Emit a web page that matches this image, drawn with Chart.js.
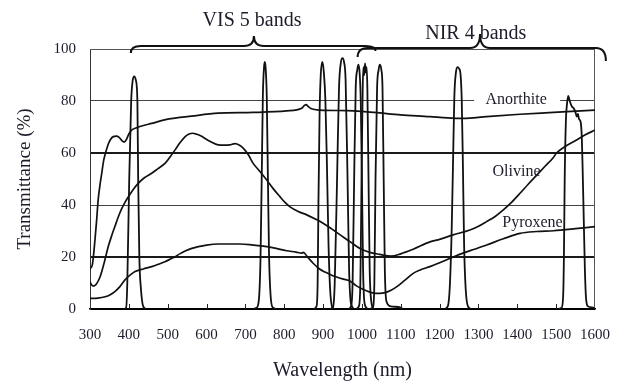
<!DOCTYPE html>
<html>
<head>
<meta charset="utf-8">
<title>Transmittance spectra</title>
<script src="https://cdn.jsdelivr.net/npm/chart.js@4.4.1/dist/chart.umd.min.js"></script>
<style>
  html, body { margin: 0; padding: 0; background: #fff; }
  #wrap { width: 620px; height: 384px; }
</style>
</head>
<body>
<div id="wrap"><canvas id="spectra" width="620" height="384"></canvas></div>
<script>
// axes
const xTicks = [300, 400, 500, 600, 700, 800, 900, 1000, 1100, 1200, 1300, 1400, 1500, 1600];
const yTicks = [0, 20, 40, 60, 80, 100];

// mineral spectra [nm, %]
const anorthite = [[300,15.5],[306,17],[310,22],[313,27],[317,34],[321,42],[326,48],[330,52],[335,57],[340,60],[346,63],[352,65],[360,66.3],[368,66.5],[375,66],[382,64.8],[388,64.2],[393,65],[400,67.3],[407,68.8],[420,69.7],[433,70.4],[459,71.4],[500,73],[562,74.2],[630,75.3],[720,75.6],[806,76.2],[845,77.2],[852,78.3],[857,78.6],[862,77.8],[870,77],[892,76.5],[961,76.3],[1000,76],[1046,75.4],[1100,74.7],[1175,74],[1220,73.5],[1261,73.3],[1321,74],[1407,74.9],[1493,75.6],[1600,76.5]];
const olivine = [[300,10.5],[304,9.3],[309,8.8],[316,9.5],[326,12.4],[336,17.5],[347,24],[356,28.3],[364,31.7],[373,35.5],[382,38.7],[390,41],[399,43.2],[410,45.7],[424,48.3],[440,50.5],[459,52.2],[475,54],[493,56],[506,58.5],[519,61.2],[532,64],[545,66.3],[555,67.3],[564,67.6],[575,67.2],[586,66.5],[596,65.6],[610,64.4],[630,63.1],[645,63],[660,63.1],[673,63.6],[685,63],[695,61.8],[708,59.2],[720,56],[738,52.8],[755,49.6],[772,46.2],[789,43.2],[802,41],[815,39.3],[836,37.5],[858,36.2],[880,34.6],[900,33],[922,30.8],[944,28.5],[970,25.8],[995,23.3],[1020,21.8],[1046,21],[1075,20.3],[1100,21.2],[1132,23],[1175,25.8],[1200,26.8],[1235,28.5],[1278,30.4],[1300,31.8],[1321,33.6],[1343,35.6],[1364,38.1],[1385,41],[1407,44.5],[1428,48],[1450,51.5],[1472,55],[1493,58.3],[1501,60],[1520,62.2],[1550,64.8],[1575,67],[1600,68.8]];
const pyroxene = [[300,4.1],[320,4.2],[339,4.7],[352,5.5],[364,6.7],[377,8.6],[390,11.2],[403,13],[416,14.4],[437,15.4],[459,16.3],[476,17.2],[493,18.2],[507,19.2],[519,20.1],[532,21.3],[545,22.3],[562,23.3],[579,24],[600,24.6],[630,25],[660,25],[686,25],[716,24.7],[746,24.2],[776,23.4],[806,22.4],[830,21.9],[845,21.5],[849,21.8],[860,20],[875,17.5],[890,15.5],[905,14.2],[918,13.3],[935,12.3],[952,11.5],[969,10.8],[985,9],[1000,7.8],[1015,6.8],[1030,6.1],[1046,6],[1060,6.3],[1075,7.2],[1090,8.6],[1110,11],[1132,13.7],[1150,15],[1175,16.3],[1200,17.8],[1227,19.5],[1260,21.5],[1290,23],[1321,24.6],[1364,27],[1407,29.1],[1450,29.8],[1493,30.1],[1550,30.9],[1600,31.7]];

// filter bands [nm, %]
const band415 = [[385,0],[393,0.5],[396,10],[401,50],[406,80],[410,88],[414,89.5],[418,88],[422,80],[424,50],[427,20],[431,8],[437,1],[445,0]];
const band750 = [[720,0],[729,0.5],[735,4],[739,20],[742,50],[745,82],[748,93],[750,95],[752,93],[755,82],[758,50],[761,20],[765,5],[771,0.5],[780,0]];
const band900 = [[875,0],[883,1],[886,10],[888,40],[891,75],[894,90],[898,95],[902,91],[906,80],[910,55],[914,25],[918,8],[923,1],[930,0]];
const band950 = [[918,0],[926,1],[930,10],[936,50],[941,85],[946,95],[950,96.5],[954,95],[958,88],[963,50],[967,15],[972,2],[980,0]];
const band990 = [[965,0],[972,1],[976,10],[980,50],[984,85],[988,92],[991,94],[994,91],[997,80],[1000,50],[1003,15],[1007,2],[1015,0]];
const band1005 = [[985,0],[992,1],[996,10],[999,50],[1002,85],[1004,93],[1006,90],[1008,94.5],[1010,91],[1012,93],[1014,85],[1017,50],[1020,15],[1024,3],[1030,0]];
const band1045 = [[1020,0],[1029,1],[1032,10],[1035,50],[1039,85],[1043,92],[1046,94],[1050,92],[1053,85],[1056,50],[1059,15],[1063,3],[1075,1],[1100,0.5],[1105,0]];
const band1250 = [[1212,0],[1221,1],[1226,8],[1231,30],[1235,60],[1238,82],[1242,91],[1246,93],[1250,92.5],[1254,90],[1257,80],[1260,55],[1263,25],[1267,8],[1273,1],[1282,0]];
const band1530 = [[1505,0],[1514,0.5],[1518,5],[1520,20],[1522,50],[1525,72],[1528,79],[1531,82],[1535,80],[1540,78],[1546,77],[1550,75.5],[1553,74],[1556,75],[1559,73],[1563,72],[1566,66],[1568,55],[1571,35],[1574,15],[1577,4],[1582,1],[1595,0.5],[1600,0]];
const bands = [band415, band750, band900, band950, band990, band1005, band1045, band1250, band1530];

// curve labels
const curveLabels = ['Anorthite', 'Olivine', 'Pyroxene'];
const labelNm = [1397, 1398, 1439];
const labelPct = [80.6, 52.8, 33];

// band group braces (nm)
const braceText = ['VIS 5 bands', 'NIR 4 bands'];
const braceTextNm = [717, 1293];
const braceStart = [405, 989];
const braceTip = [722, 1304];
const braceEnd = [1035, 1628];

const SERIF = "'Liberation Serif', 'DejaVu Serif', serif";
const INK = '#111';

function brace(ctx, x0, xm, x1, yLine, yTip, yL, yR) {
    const r = 10;
    ctx.beginPath();
    ctx.moveTo(x0, yL);
    ctx.quadraticCurveTo(x0, yLine, x0 + r, yLine);
    ctx.lineTo(xm - r, yLine);
    ctx.quadraticCurveTo(xm, yLine, xm, yTip);
    ctx.moveTo(xm, yTip);
    ctx.quadraticCurveTo(xm, yLine, xm + r, yLine);
    ctx.lineTo(x1 - r, yLine);
    ctx.quadraticCurveTo(x1, yLine, x1, yR);
    ctx.stroke();
}

const decorations = {
    id: 'decorations',
    beforeDatasetsDraw(chart) {
        const { ctx, chartArea: a, scales: { x, y } } = chart;
        ctx.save();
        // top and right frame
        ctx.strokeStyle = '#555';
        ctx.lineWidth = 1;
        ctx.beginPath();
        ctx.moveTo(a.left, a.top + 0.5);
        ctx.lineTo(a.right - 0.5, a.top + 0.5);
        ctx.lineTo(a.right - 0.5, a.bottom);
        ctx.stroke();
        // white box behind the Anorthite label cuts the 80% line
        const px = x.getPixelForValue(labelNm[0]);
        const py = y.getPixelForValue(labelPct[0]);
        ctx.fillStyle = '#fff';
        ctx.fillRect(px - 42, py - 6, 86, 12);
        ctx.restore();
    },
    afterDatasetsDraw(chart) {
        const { ctx, chartArea: a, scales: { x, y } } = chart;
        ctx.save();
        // inward tick marks on the wavelength axis
        ctx.strokeStyle = '#222';
        ctx.lineWidth = 1;
        xTicks.slice(1, -1).forEach(v => {
            const px = Math.round(x.getPixelForValue(v)) + 0.5;
            ctx.beginPath();
            ctx.moveTo(px, a.bottom);
            ctx.lineTo(px, a.bottom - 5);
            ctx.stroke();
        });
        // curve names
        ctx.fillStyle = '#1c1c2a';
        ctx.font = '16px ' + SERIF;
        ctx.textAlign = 'center';
        ctx.textBaseline = 'middle';
        curveLabels.forEach((t, i) => {
            ctx.fillText(t, x.getPixelForValue(labelNm[i]), y.getPixelForValue(labelPct[i]));
        });
        // braces
        ctx.strokeStyle = INK;
        ctx.lineWidth = 2;
        brace(ctx, x.getPixelForValue(braceStart[0]), x.getPixelForValue(braceTip[0]), x.getPixelForValue(braceEnd[0]),
            a.top - 3, a.top - 13, a.top + 4, a.top + 2);
        brace(ctx, x.getPixelForValue(braceStart[1]), x.getPixelForValue(braceTip[1]), x.getPixelForValue(braceEnd[1]),
            a.top - 1, a.top - 15, a.top + 8, a.top + 12);
        ctx.font = '20px ' + SERIF;
        ctx.fillStyle = '#1c1c2a';
        ctx.fillText(braceText[0], x.getPixelForValue(braceTextNm[0]), a.top - 28);
        ctx.fillText(braceText[1], x.getPixelForValue(braceTextNm[1]), a.top - 15);
        ctx.restore();
    }
};

const curveStyle = { borderColor: INK, borderWidth: 1.7, pointRadius: 0, fill: false, cubicInterpolationMode: 'monotone' };
const bandStyle = { borderColor: INK, borderWidth: 1.8, pointRadius: 0, fill: false, cubicInterpolationMode: 'monotone' };

const datasets = [
    { label: 'Anorthite', data: anorthite, ...curveStyle },
    { label: 'Olivine', data: olivine, ...curveStyle },
    { label: 'Pyroxene', data: pyroxene, ...curveStyle },
    ...bands.map((b, i) => ({ label: 'band ' + (i + 1), data: b, ...bandStyle }))
];

new Chart(document.getElementById('spectra'), {
    type: 'line',
    data: { datasets },
    options: {
        responsive: false,
        animation: false,
        events: [],
        layout: { padding: { top: 49, right: 25, left: 0, bottom: 0 } },
        plugins: { legend: { display: false }, tooltip: { enabled: false } },
        scales: {
            x: {
                type: 'linear', min: 300, max: 1600,
                afterBuildTicks: s => { s.ticks = xTicks.map(v => ({ value: v })); },
                afterFit: s => { s.height = 75; s.paddingLeft = 0; s.paddingRight = 0; },
                grid: { display: false, drawTicks: false },
                border: { display: true, color: '#000', width: 1.5 },
                ticks: { color: '#1c1c2a', font: { family: SERIF, size: 15 }, padding: 17, autoSkip: false, maxRotation: 0, callback: v => String(v) },
                title: { display: true, text: 'Wavelength (nm)', color: '#1c1c2a', font: { family: SERIF, size: 20 }, padding: { top: 0, bottom: 1 } }
            },
            y: {
                min: 0, max: 100,
                afterBuildTicks: s => { s.ticks = yTicks.map(v => ({ value: v })); },
                afterFit: s => { s.width = 90; s.paddingTop = 0; s.paddingBottom = 0; },
                grid: {
                    drawTicks: false,
                    color: c => c.tick.value === 0 ? '#000' : (c.tick.value === 20 || c.tick.value === 60) ? '#1a1a1a' : '#444',
                    lineWidth: c => (c.tick.value === 20 || c.tick.value === 60) ? 2 : 1
                },
                border: { display: true, color: '#333', width: 1 },
                ticks: { color: '#1c1c2a', font: { family: SERIF, size: 15 }, padding: 14 },
                title: { display: true, text: 'Transmittance (%)', color: '#1c1c2a', font: { family: SERIF, size: 19 }, padding: { top: 14, bottom: 0 } }
            }
        }
    },
    plugins: [decorations]
});
</script>
</body>
</html>
